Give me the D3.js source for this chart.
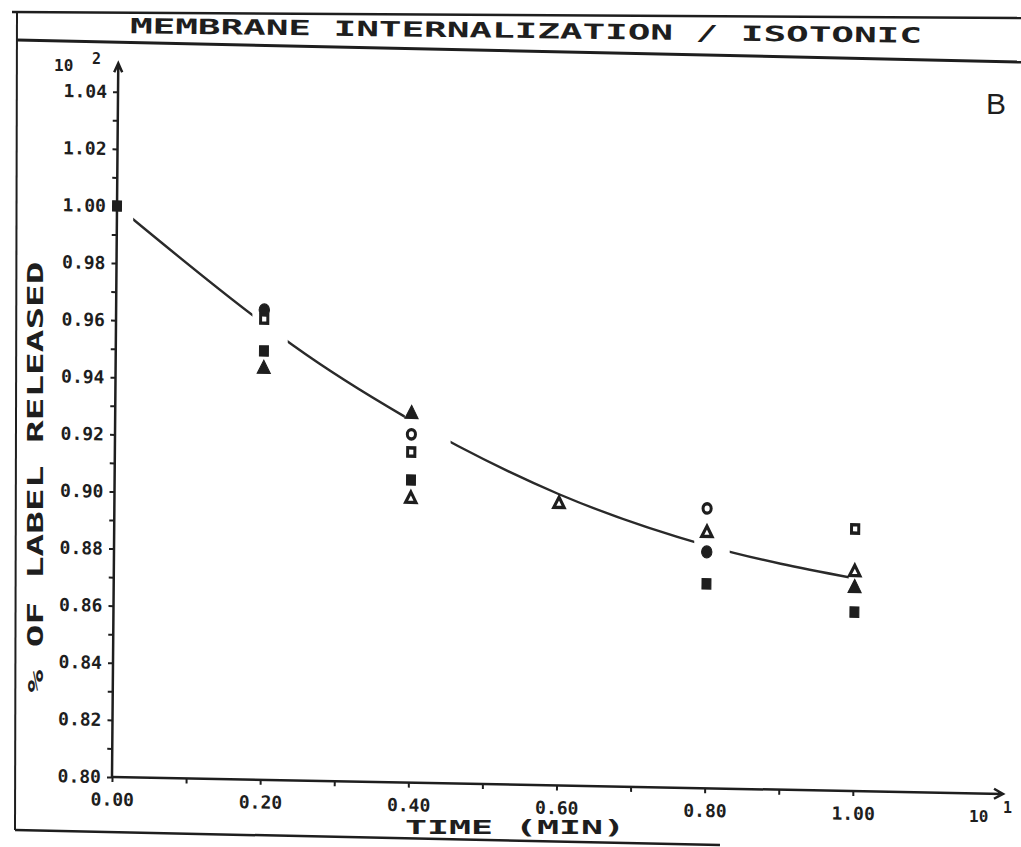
<!DOCTYPE html>
<html>
<head>
<meta charset="utf-8">
<script src="https://cdn.jsdelivr.net/npm/d3@7"></script>
<style>
  body { margin: 0; background: #fff; }
  text { fill: #1e1e1e; }
</style>
</head>
<body>
<script>
// values (time in min, fraction of label released)
var times = [0, 0.2, 0.4, 0.6, 0.8, 1.0]
var openCircle     = [null, null,   0.922,  null,   0.898,  null]
var openSquare     = [null, 0.9614, 0.9158, null,   null,   0.8918]
var openTriangle   = [null, null,   0.8994, 0.8986, 0.8894, 0.8767]
var filledSquare   = [1.000, 0.9502, 0.906, null,   0.8716, 0.8627]
var filledTriangle = [null, 0.9439, 0.9291, null,   null,   0.8711]
var filledCircle   = [null, 0.9646, null,   null,   0.8828, null]

// fitted curve, read at a few places
var curveT = [0, 0.184, 0.24, 0.389, 0.463, 0.6, 0.8, 1.0]
var curveV = [1.000, 0.9627, 0.9522, 0.9284, 0.9182, 0.902, 0.885, 0.8745]
// parts of the curve that are actually drawn (it breaks around the markers)
var curveSpans = [[0.022, 0.184], [0.232, 0.391], [0.453, 0.783], [0.831, 0.992]]

var xTickLabels = ["0.00", "0.20", "0.40", "0.60", "0.80", "1.00"]
var yTickLabels = ["0.80", "0.82", "0.84", "0.86", "0.88", "0.90", "0.92",
                   "0.94", "0.96", "0.98", "1.00", "1.02", "1.04"]

const W = 1021, H = 847
const ink = "#1e1e1e"
const mono = "'DejaVu Sans Mono', monospace"

const svg = d3.select("body").append("svg")
  .attr("width", W)
  .attr("height", H)

svg.append("rect").attr("width", W).attr("height", H).attr("fill", "#fff")

// frame of the plot page (the scan is a bit skewed)
function frameLine(x1, y1, x2, y2, w) {
  svg.append("line")
  .attr("x1", x1).attr("y1", y1).attr("x2", x2).attr("y2", y2)
  .attr("stroke", ink).attr("stroke-width", w)
}
frameLine(12, 12, 1021, 18, 2.5)
frameLine(17, 40, 1021, 62, 3)
frameLine(17, 12, 15, 830, 2)
frameLine(15, 830, 720, 845, 2.5)

// Title
svg.append("text")
.attr("x", 526).attr("y", 38)
.attr("text-anchor", "middle")
.attr("font-family", mono).attr("font-weight", "bold").attr("font-size", 21)
.attr("textLength", 792).attr("lengthAdjust", "spacingAndGlyphs")
.attr("transform", "rotate(0.7,526,30)")
.text("MEMBRANE INTERNALIZATION / ISOTONIC")

svg.append("text")
.attr("x", 986).attr("y", 114)
.attr("font-family", "'Liberation Sans', Arial, sans-serif").attr("font-size", 30)
.text("B")

// Axis titles
svg.append("text")
.attr("transform", "translate(43,477) rotate(-90)")
.attr("text-anchor", "middle")
.attr("font-family", mono).attr("font-weight", "bold").attr("font-size", 22)
.attr("textLength", 431).attr("lengthAdjust", "spacingAndGlyphs")
.text("% OF LABEL RELEASED")

svg.append("text")
.attr("x", 515).attr("y", 834)
.attr("text-anchor", "middle")
.attr("font-family", mono).attr("font-weight", "bold").attr("font-size", 20)
.attr("textLength", 220).attr("lengthAdjust", "spacingAndGlyphs")
.text("TIME (MIN)")

// exponent marks
function smallText(x, y, size, s) {
  svg.append("text").attr("x", x).attr("y", y)
  .attr("font-family", mono).attr("font-weight", "bold").attr("font-size", size)
  .text(s)
}
smallText(54, 71, 16, "10")
smallText(92, 64, 15, "2")
smallText(969, 822, 16, "10")
smallText(1003, 813, 15, "1")

// plot group, sheared like the scan
const plot = svg.append("g")
.attr("transform", "matrix(1,0.019,-0.0088,1,112,777)")

const x = d3.scaleLinear().domain([0, 1.2]).range([0, 889])
const y = d3.scaleLinear().domain([0.80, 1.05]).range([0, -713.75])

// Y axis
const yMinor = d3.range(0, 25).map(i => +(0.80 + i * 0.01).toFixed(2))
const yAxis = plot.append("g")
.call(d3.axisLeft(y)
  .tickValues(yMinor)
  .tickSize(5)
  .tickPadding(6)
  .tickFormat(d => yTickLabels.indexOf(d.toFixed(2)) >= 0 ? d.toFixed(2) : ""))
yAxis.select(".domain").remove()
yAxis.selectAll(".tick line").attr("stroke", ink).attr("stroke-width", 2)
yAxis.selectAll("text")
.attr("font-family", mono).attr("font-weight", "bold").attr("font-size", 18)
.attr("fill", ink)

// X axis
const xMinor = d3.range(0, 11).map(i => +(i * 0.1).toFixed(1))
const xAxis = plot.append("g")
.call(d3.axisBottom(x)
  .tickValues(xMinor)
  .tickSize(5)
  .tickPadding(11)
  .tickFormat(d => xTickLabels.indexOf(d.toFixed(2)) >= 0 ? d.toFixed(2) : ""))
xAxis.select(".domain").remove()
xAxis.selectAll(".tick line").attr("stroke", ink).attr("stroke-width", 2)
xAxis.selectAll("text")
.attr("font-family", mono).attr("font-weight", "bold").attr("font-size", 18)
.attr("fill", ink)

// axis lines with arrows
const yTop = y(1.05)
const xEnd = x(1.2) + 2
plot.append("path")
.attr("d", "M0,0 L0," + yTop + " M-4," + (yTop + 9) + " L0," + yTop + " L4," + (yTop + 9))
.attr("fill", "none").attr("stroke", ink).attr("stroke-width", 2.5)
plot.append("path")
.attr("d", "M0,0 L" + xEnd + ",0 M" + (xEnd - 9) + ",-5 L" + xEnd + ",0 L" + (xEnd - 9) + ",5")
.attr("fill", "none").attr("stroke", ink).attr("stroke-width", 2.5)

// fitted curve, clipped to the drawn pieces
const clip = plot.append("clipPath").attr("id", "curveClip")
clip.selectAll("rect")
.data(curveSpans)
.enter()
.append("rect")
.attr("x", d => x(d[0]))
.attr("width", d => x(d[1]) - x(d[0]))
.attr("y", -800)
.attr("height", 900)

const curvePts = curveT.map((t, i) => [t, curveV[i]])
plot.append("path")
.datum(curvePts)
.attr("clip-path", "url(#curveClip)")
.attr("fill", "none")
.attr("stroke", "#2a2a2a")
.attr("stroke-width", 2.4)
.attr("d", d3.line()
  .x(d => x(d[0]))
  .y(d => y(d[1]))
  .curve(d3.curveMonotoneX))

// markers
function drawSeries(values, type, size, filled, sw) {
  const pts = times.map((t, i) => ({t: t, v: values[i]})).filter(d => d.v != null)
  plot.append("g")
  .selectAll("path")
  .data(pts)
  .enter()
  .append("path")
  .attr("transform", d => "translate(" + x(d.t) + "," + y(d.v) + ") scale(1,1.15)")
  .attr("d", d3.symbol().type(type).size(size))
  .attr("fill", filled ? ink : "#fff")
  .attr("stroke", ink)
  .attr("stroke-width", sw)
}

drawSeries(filledCircle, d3.symbolCircle, 85, true, 1)
drawSeries(filledTriangle, d3.symbolTriangle, 75, true, 1)
drawSeries(filledSquare, d3.symbolSquare, 80, true, 1)
drawSeries(openCircle, d3.symbolCircle, 52, false, 3)
drawSeries(openSquare, d3.symbolSquare, 52, false, 3)
drawSeries(openTriangle, d3.symbolTriangle, 46, false, 3)
</script>
</body>
</html>
